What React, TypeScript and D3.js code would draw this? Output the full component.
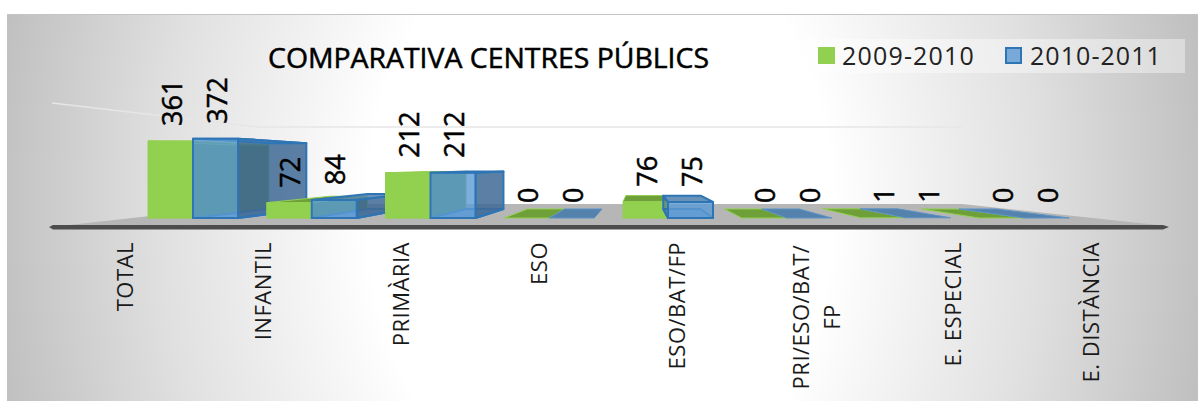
import React from "react";
import * as d3 from "d3";

const W = 1198;
const H = 401;
const categories = ["TOTAL", "INFANTIL", "PRIMÀRIA", "ESO", "ESO/BAT/FP", "PRI/ESO/BAT/ FP", "E. ESPECIAL", "E. DISTÀNCIA"];
const axisLines = [["TOTAL"], ["INFANTIL"], ["PRIMÀRIA"], ["ESO"], ["ESO/BAT/FP"], ["PRI/ESO/BAT/", "FP"], ["E. ESPECIAL"], ["E. DISTÀNCIA"]];
const series2009 = [361, 72, 212, 0, 76, 0, 1, 0];
const series2010 = [372, 84, 212, 0, 75, 0, 1, 0];
const seriesNames = ["2009-2010", "2010-2011"];
const title = "COMPARATIVA CENTRES PÚBLICS";

const GREEN = "#92d050";
const BLUE = "#5b9bd5";
const BLUE_STROKE = "#2e75b6";
const FONT = "'Open Sans', sans-serif";

// perspective vanishing point and depth of the bars
const VX = 640;
const VY = 165;
const K = 0.17;
const project = (x: number, y: number): [number, number] => [x + (VX - x) * K, y + (VY - y) * K];

const xBand = d3.scaleBand<string>().domain(categories).range([148, 1098]).paddingInner(0).paddingOuter(0);
const bw = 45;
const y = d3.scaleLinear().domain([0, 361]).range([218, 141]);
const xLabel = d3.scalePoint<string>().domain(categories).range([125, 1091]);

const poly = (pts: [number, number][]) => pts.map((p) => p.join(",")).join(" ");

function Bar({ x0, value, kind }: { x0: number; value: number; kind: "g" | "b" }) {
  const x1 = x0 + bw;
  const yT = y(value);
  const yB = y(0);
  const isG = kind === "g";
  const flat = value <= 1;
  const stroke = isG ? GREEN : flat ? "#5a93c8" : BLUE_STROKE;
  const sw = isG || flat ? 1 : 2;
  const common = { stroke, strokeWidth: sw, strokeLinejoin: "round" as const };
  const topFill = isG ? "#6f9f38" : "#4f80ac";
  const sideFill = isG ? "#5f8f35" : "#3f6a95";
  const faces: React.ReactNode[] = [];
  if (flat) {
    faces.push(
      <polygon key="flat" points={poly([[x0, yT], [x1, yT], project(x1, yT), project(x0, yT)])}
        fill={topFill} fillOpacity={isG ? 1 : 0.95} {...common} />
    );
    return <g>{faces}</g>;
  }
  faces.push(
    <polygon key="bottom" points={poly([[x0, yB], [x1, yB], project(x1, yB), project(x0, yB)])}
      fill={isG ? "#6f9f38" : "#6d9fd2"} fillOpacity={isG ? 1 : 0.75} {...common} />
  );
  if (x1 < VX) {
    faces.push(
      <polygon key="side" points={poly([[x1, yT], [x1, yB], project(x1, yB), project(x1, yT)])}
        fill={sideFill} fillOpacity={isG ? 1 : 0.85} {...common} />
    );
  }
  if (x0 > VX) {
    faces.push(
      <polygon key="left" points={poly([[x0, yT], [x0, yB], project(x0, yB), project(x0, yT)])}
        fill={sideFill} fillOpacity={isG ? 1 : 0.55} {...common} />
    );
  }
  faces.push(
    <polygon key="top" points={poly([[x0, yT], [x1, yT], project(x1, yT), project(x0, yT)])}
      fill={topFill} fillOpacity={isG ? 1 : 0.85} {...common} />
  );
  faces.push(
    <rect key="front" x={x0} y={yT} width={bw} height={yB - yT}
      fill={isG ? GREEN : BLUE} fillOpacity={isG ? 1 : 0.8} {...common} />
  );
  return <g>{faces}</g>;
}

export default function App() {
  return (
    <svg width={W} height={H} style={{ position: "absolute", left: 0, top: 0, display: "block" }} fontFamily={FONT}>
      <defs>
        <radialGradient id="bg" gradientUnits="userSpaceOnUse" cx={0} cy={0} r={1}
          gradientTransform="translate(600 210) scale(610 800)">
          <stop offset="0.38" stopColor="#ffffff" />
          <stop offset="0.52" stopColor="#f2f2f2" />
          <stop offset="0.72" stopColor="#e0e0e0" />
          <stop offset="1" stopColor="#c0c0c0" />
        </radialGradient>
      </defs>
      <rect width={W} height={H} fill="#ffffff" />
      <rect x={7} y={14} width={W - 7} height={H - 14} fill="url(#bg)" />
      <line x1={7} x2={W} y1={14.5} y2={14.5} stroke="#c4c4c4" strokeWidth={1} />

      {/* back wall gridline */}
      <polyline points="52,103 258,127 962,127" fill="none" stroke="#e6e6e6" strokeWidth={1.6} />

      {/* floor */}
      <polygon points="60,226 258,204 962,204 1167,226" fill="#b6b6b6" />
      <polygon points="49,227 53,225 1163,225 1169,227 1163,229.5 53,229.5" fill="#4c4c4c" />

      {/* bars */}
      {categories.map((c, i) => {
        const x0 = xBand(c)!;
        return (
          <g key={c}>
            <Bar x0={x0} value={series2009[i]} kind="g" />
            <Bar x0={x0 + bw} value={series2010[i]} kind="b" />
          </g>
        );
      })}

      {/* data labels */}
      {categories.map((c, i) => {
        const x0 = xBand(c)!;
        return (
          <g key={c} fontSize={27} fill="#000" stroke="#000" strokeWidth={0.5}>
            {[series2009[i], series2010[i]].map((v, j) => {
              const cx = x0 + bw * j + bw / 2 + 1.5;
              const by = y(v) - 15;
              return (
                <text key={j} transform={`translate(${cx},${by}) rotate(-90)`} dy="0.36em" textAnchor="start">
                  {v}
                </text>
              );
            })}
          </g>
        );
      })}

      {/* axis labels */}
      {categories.map((c, i) => {
        const lines = axisLines[i];
        const cx = xLabel(c)!;
        return (
          <g key={c} fontSize={22} fill="#1a1a1a" letterSpacing={0.5}>
            {lines.length === 1 ? (
              <text transform={`translate(${cx},242) rotate(-90)`} dy="0.36em" textAnchor="end">{lines[0]}</text>
            ) : (
              lines.map((l, k) => (
                <text key={k} transform={`translate(${cx - 14 + k * 31},317) rotate(-90)`} dy="0.36em" textAnchor="middle">{l}</text>
              ))
            )}
          </g>
        );
      })}

      {/* title */}
      <text x={268} y={68} fontSize={27} fill="#000" stroke="#000" strokeWidth={0.5} textLength={441} lengthAdjust="spacingAndGlyphs">{title}</text>

      {/* legend */}
      <rect x={787} y={39} width={398} height={34} fill="#ffffff" fillOpacity={0.4} />
      <rect x={818} y={47} width={17} height={17} fill={GREEN} />
      <text x={842} y={65} fontSize={25} fill="#222" letterSpacing={1.2} textLength={133}>{seriesNames[0]}</text>
      <rect x={1006} y={48} width={15} height={15} fill="#79a9d9" stroke={BLUE_STROKE} strokeWidth={2} />
      <text x={1030} y={65} fontSize={25} fill="#222" letterSpacing={1.2} textLength={132}>{seriesNames[1]}</text>
    </svg>
  );
}
